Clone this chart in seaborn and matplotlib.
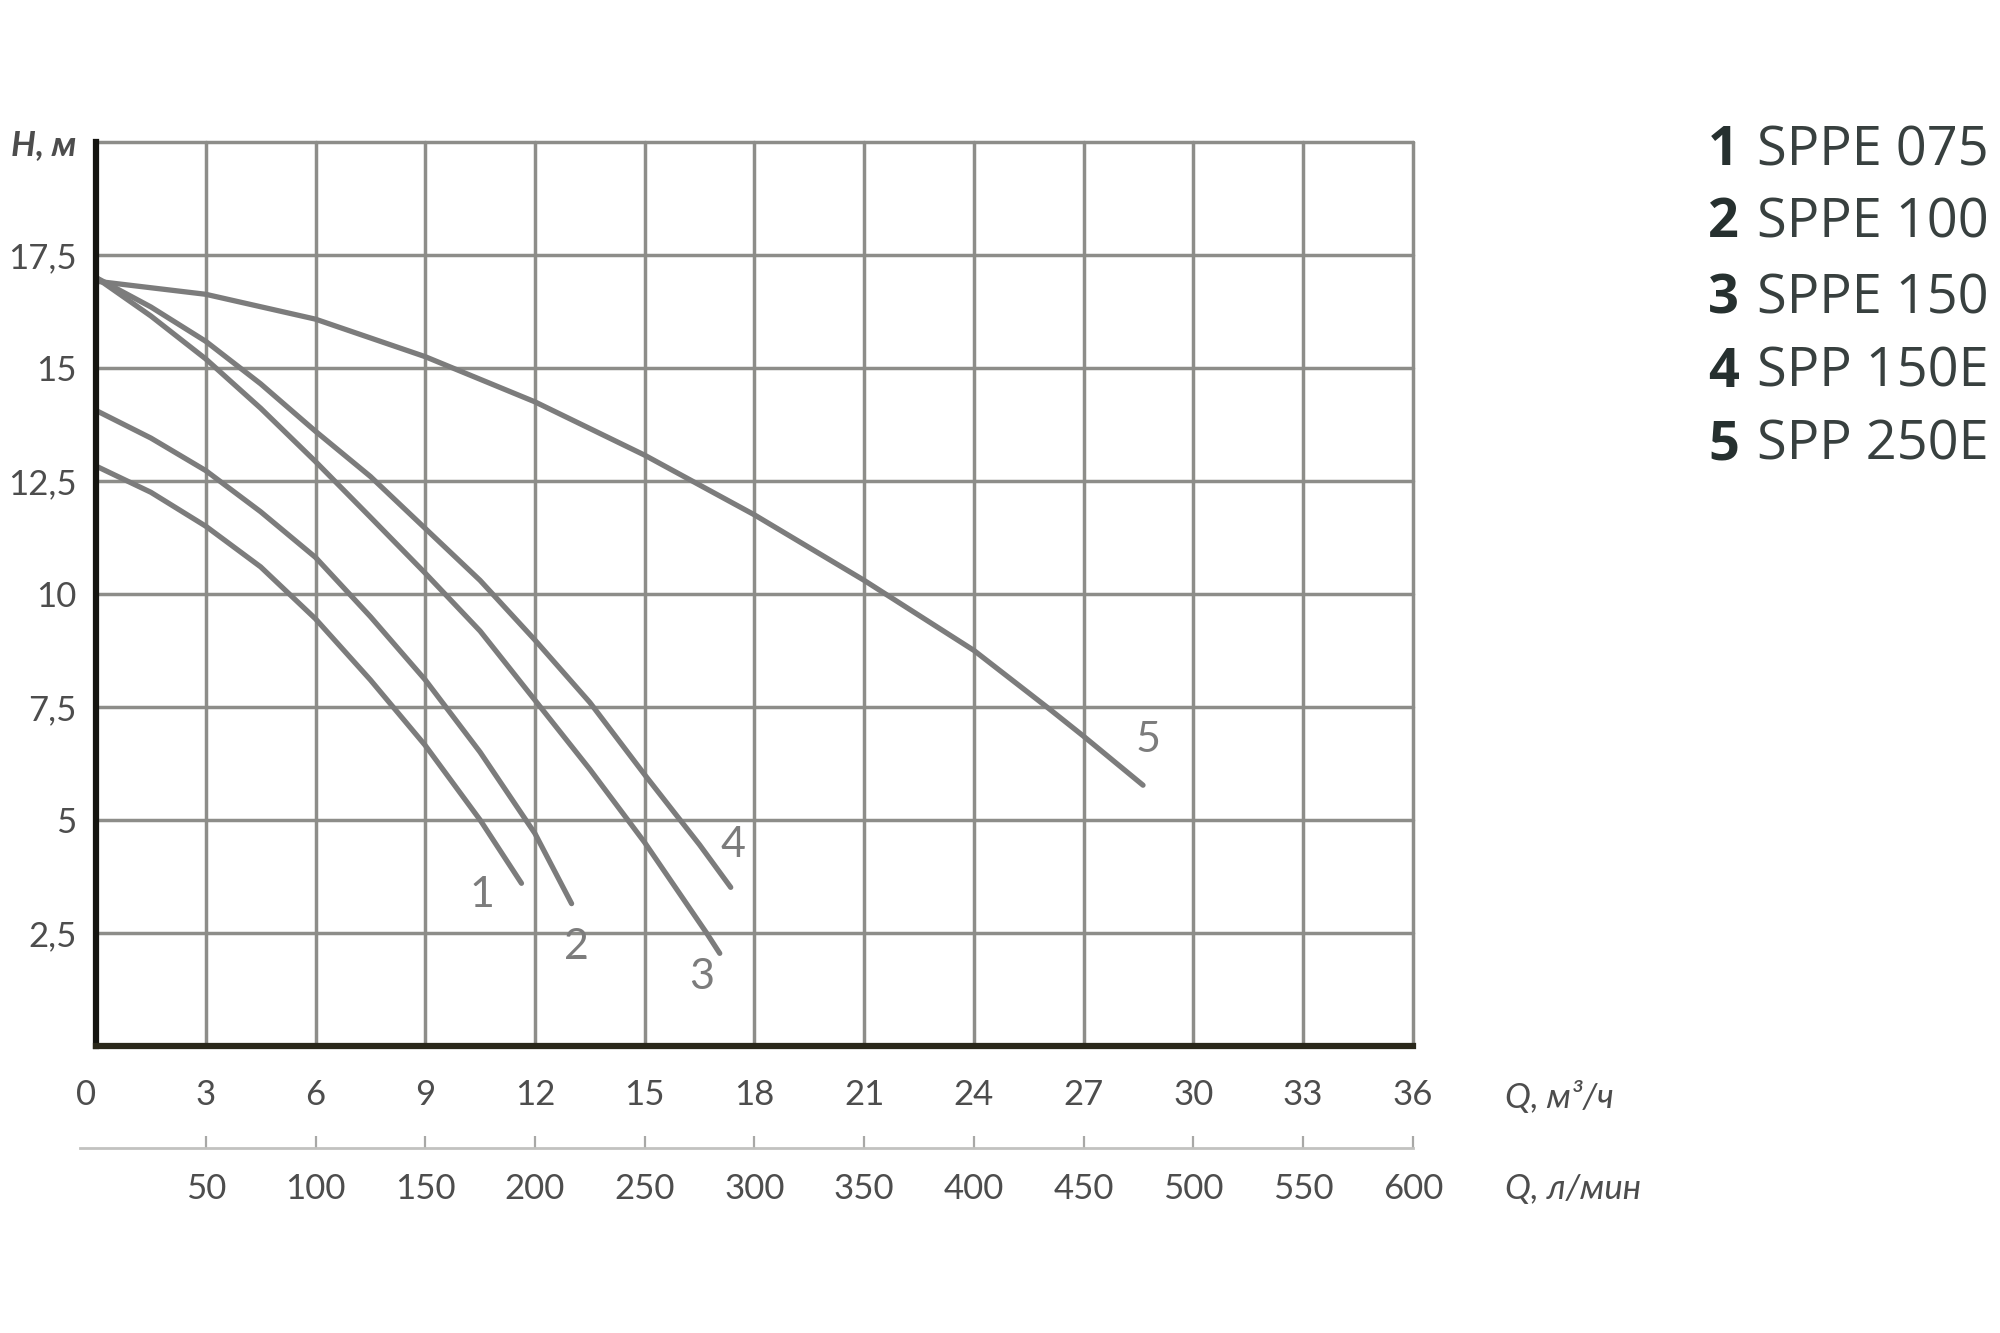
"""
Pump performance curves H(Q) for SPPE / SPP series
"""

import pandas as pd
import matplotlib
matplotlib.use('Agg')
import matplotlib.pyplot as plt
import seaborn as sns
import numpy as np

# Curve data: flow Q (m3/h) and head H (m)
pump_ids = ['1', '2', '3', '4', '5']
pump_names = ['SPPE 075', 'SPPE 100', 'SPPE 150', 'SPP 150E', 'SPP 250E']

q_1 = [0, 1.5, 3, 4.5, 6, 7.5, 9, 10.5, 11.63]
h_1 = [12.83, 12.25, 11.5, 10.6, 9.45, 8.1, 6.65, 5.0, 3.6]

q_2 = [0, 1.5, 3, 4.5, 6, 7.5, 9, 10.5, 12, 13.0]
h_2 = [14.06, 13.45, 12.73, 11.82, 10.81, 9.5, 8.1, 6.5, 4.7, 3.15]

q_3 = [0, 1.5, 3, 4.5, 6, 7.5, 9, 10.5, 12, 13.5, 15, 16.69, 17.05]
h_3 = [17.0, 16.15, 15.2, 14.11, 12.93, 11.7, 10.46, 9.18, 7.65, 6.12, 4.5, 2.5, 2.05]

q_4 = [0, 1.5, 3, 4.5, 6, 7.5, 9, 10.5, 12, 13.5, 15, 16.5, 17.35]
h_4 = [17.0, 16.35, 15.59, 14.65, 13.6, 12.6, 11.45, 10.3, 8.98, 7.6, 6.0, 4.45, 3.51]

q_5 = [0, 3, 6, 9, 12, 15, 18, 21, 24, 26.07, 27, 28.62]
h_5 = [16.92, 16.63, 16.08, 15.25, 14.25, 13.07, 11.75, 10.3, 8.75, 7.45, 6.85, 5.77]

# curve number labels (Q, H)
label_q = [10.54, 13.13, 16.55, 17.41, 28.77]
label_h = [3.34, 2.2, 1.53, 4.45, 6.77]

q_ticks = list(range(0, 37, 3))
h_ticks = [0, 2.5, 5, 7.5, 10, 12.5, 15, 17.5, 20]
h_tick_labels = ['', '2,5', '5', '7,5', '10', '12,5', '15', '17,5', 'H, м']
lpm_ticks = list(range(50, 601, 50))

GRID = '#8d8d89'
CURVE = '#7c7c7c'
TEXT = '#4d4d4d'

sns.set_style("white")
plt.rcParams['font.family'] = ['Lato', 'DejaVu Sans']

# long table for seaborn
frames = []
for pid, q, h in zip(pump_ids, [q_1, q_2, q_3, q_4, q_5], [h_1, h_2, h_3, h_4, h_5]):
    frames.append(pd.DataFrame({'Q': q, 'H': h, 'pump': pid}))
df = pd.concat(frames, ignore_index=True)

fig = plt.figure(figsize=(20, 13.33), dpi=100)
ax = fig.add_axes([0.048, 0.2153, 0.6585, 0.6782])

sns.lineplot(data=df, x='Q', y='H', hue='pump', units='pump', estimator=None,
             sort=False, palette=[CURVE] * 5, linewidth=3.8, legend=False,
             ax=ax, zorder=3, solid_joinstyle='round')

ax.set_xlim(0, 36)
ax.set_ylim(0, 20)
ax.set_xticks(q_ticks)
ax.set_yticks(h_ticks)
ax.set_yticklabels(h_tick_labels)
ax.set_xlabel('')
ax.set_ylabel('')

ax.grid(True, color=GRID, linewidth=2.5)
for line in ax.get_xgridlines() + ax.get_ygridlines():
    line.set_clip_on(False)
ax.set_axisbelow(True)

for side in ['top', 'right']:
    ax.spines[side].set_visible(False)
ax.spines['left'].set_color('#141410')
ax.spines['left'].set_linewidth(4.5)
ax.spines['bottom'].set_color('#2a281b')
ax.spines['bottom'].set_linewidth(4.5)
ax.spines['left'].set_zorder(5)
ax.spines['bottom'].set_zorder(5)

ax.tick_params(axis='both', length=0, labelsize=25, colors=TEXT)
ax.tick_params(axis='x', pad=24)
ax.tick_params(axis='y', pad=14)
ax.get_xticklabels()[0].set_ha('right')
top_lab = ax.get_yticklabels()[-1]
top_lab.set_style('italic')
top_lab.set_fontweight('bold')

# second flow scale in l/min
sec = ax.secondary_xaxis(-0.1128, functions=(lambda q: q * 50 / 3, lambda l: l * 3 / 50))
sec.set_xticks(lpm_ticks)
sec.spines['bottom'].set_color('#c2c2c0')
sec.spines['bottom'].set_linewidth(2)
sec.spines['bottom'].set_bounds(-7.5, 600)
sec.tick_params(axis='x', direction='in', length=9, width=1.6, color='#a8a8a6',
                labelsize=25, labelcolor=TEXT, pad=18)

# curve numbers
for pid, lq, lh in zip(pump_ids, label_q, label_h):
    ax.text(lq, lh, pid, fontsize=31, color='#7c7c7c', ha='center', va='center')

# unit captions
fig.text(0.7525, 0.177, 'Q, м³/ч', fontsize=25, style='italic', color=TEXT, va='center')
fig.text(0.7525, 0.108, 'Q, л/мин', fontsize=25, style='italic', color=TEXT, va='center')

# model list
legend_y = [0.876, 0.822, 0.765, 0.710, 0.655]
for pid, name, y in zip(pump_ids, pump_names, legend_y):
    fig.text(0.854, y, pid, fontsize=39, fontweight='bold', color='#26302f',
             va='baseline', family=['Open Sans', 'DejaVu Sans'])
    fig.text(0.8785, y, name, fontsize=39, color='#38403f',
             va='baseline', family=['Open Sans', 'DejaVu Sans'])

plt.savefig('out.png', dpi=100, facecolor='white')
plt.close()
